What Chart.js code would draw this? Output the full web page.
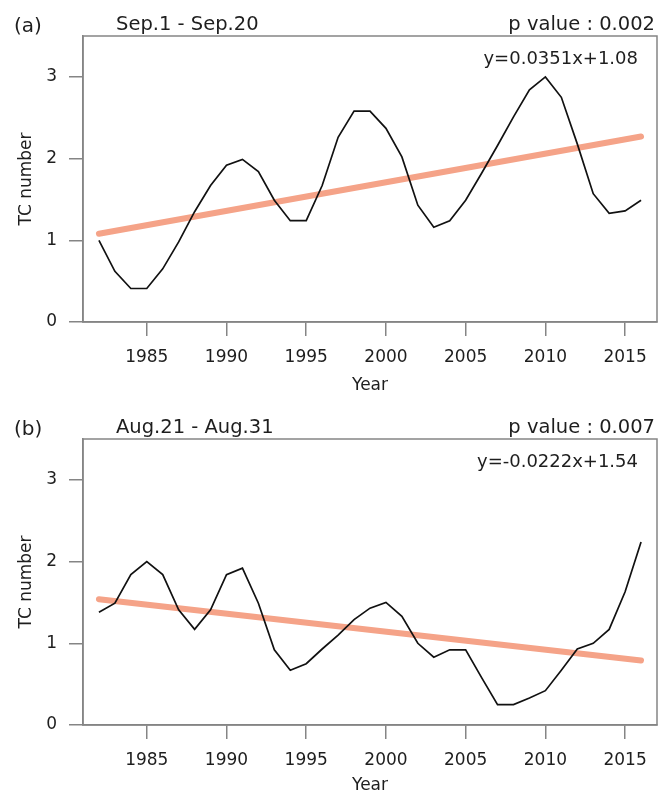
<!DOCTYPE html>
<html>
<head>
<meta charset="utf-8">
<script src="https://cdn.jsdelivr.net/npm/chart.js@4/dist/chart.umd.min.js"></script>
<style>
  html, body { margin: 0; padding: 0; background: #fff; }
  .panel { position: absolute; left: 0; width: 668px; height: 400px; }
</style>
</head>
<body>
<div class="panel" style="top:0"><canvas id="chartA" width="668" height="400"></canvas></div>
<div class="panel" style="top:400px"><canvas id="chartB" width="668" height="400"></canvas></div>
<script>
// data
const years = [1982,1983,1984,1985,1986,1987,1988,1989,1990,1991,1992,1993,1994,1995,1996,1997,1998,1999,
  2000,2001,2002,2003,2004,2005,2006,2007,2008,2009,2010,2011,2012,2013,2014,2015,2016];
const tcSep = [1.0,0.62,0.41,0.41,0.65,0.98,1.35,1.67,1.92,1.99,1.84,1.49,1.24,1.24,1.67,2.26,2.58,2.58,
  2.37,2.02,1.43,1.16,1.24,1.49,1.82,2.16,2.51,2.84,3.0,2.75,2.18,1.57,1.33,1.36,1.49];
const tcAug = [1.38,1.49,1.84,2.0,1.84,1.41,1.17,1.41,1.84,1.92,1.49,0.92,0.67,0.75,0.93,1.10,1.29,1.43,
  1.50,1.33,1.0,0.83,0.92,0.92,0.58,0.25,0.25,0.33,0.42,0.67,0.93,1.0,1.17,1.63,2.24];
const trendYears = [1982, 2016];
const trendSep = [1.08, 2.27];
const trendAug = [1.54, 0.79];
const xTicks = [1985,1990,1995,2000,2005,2010,2015];
const yTicks = [0,1,2,3];

const FONT = "'DejaVu Sans', sans-serif";
const AXIS = '#858585';
const TEXT = '#1e1e1e';

const panelText = {
  id: 'panelText',
  afterDraw(chart, args, o) {
    const {ctx, chartArea: a} = chart;
    ctx.save();
    ctx.strokeStyle = AXIS;
    ctx.lineWidth = 1.5;
    ctx.strokeRect(a.left, a.top, a.right - a.left, a.bottom - a.top);
    ctx.fillStyle = TEXT;
    ctx.textBaseline = 'alphabetic';
    ctx.font = '20px ' + FONT;
    ctx.textAlign = 'left';
    ctx.fillText(o.tag, 14, a.top - 4);
    ctx.font = '19.5px ' + FONT;
    ctx.fillText(o.title, 116, a.top - 6);
    ctx.textAlign = 'right';
    ctx.fillText(o.pval, 655, a.top - 6);
    ctx.font = '18px ' + FONT;
    ctx.fillText(o.eq, 638, a.top + 28);
    ctx.restore();
  }
};

function makePanel(id, values, trend, text, top, xHeight) {
  return new Chart(document.getElementById(id), {
    type: 'line',
    data: {
      datasets: [
        { data: years.map((y, i) => ({x: y, y: values[i]})), borderColor: '#111', borderWidth: 1.7,
          pointRadius: 0, tension: 0, order: 0 },
        { data: trendYears.map((y, i) => ({x: y, y: trend[i]})), borderColor: '#f5a388', borderWidth: 6,
          borderCapStyle: 'round', pointRadius: 0, order: 1 }
      ]
    },
    options: {
      responsive: false,
      animation: false,
      layout: { padding: { top: top, right: 11, left: 0, bottom: 0 } },
      plugins: { legend: { display: false }, tooltip: { enabled: false }, panelText: text },
      scales: {
        x: {
          type: 'linear', min: 1981, max: 2017,
          afterBuildTicks: s => { s.ticks = xTicks.map(v => ({value: v})); },
          afterFit: s => { s.height = xHeight; },
          grid: { drawOnChartArea: false, tickLength: 14, color: AXIS, lineWidth: 1.5 },
          border: { color: AXIS, width: 1.5 },
          ticks: { color: TEXT, font: { family: FONT, size: 17 }, padding: 11, maxRotation: 0,
                   callback: v => String(v) },
          title: { display: true, text: 'Year', color: TEXT, font: { family: FONT, size: 17 },
                   padding: { top: 0, bottom: 4 } }
        },
        y: {
          min: 0, max: 3.5,
          afterBuildTicks: s => { s.ticks = yTicks.map(v => ({value: v})); },
          afterFit: s => { s.width = 83; },
          grid: { drawOnChartArea: false, tickLength: 14, color: AXIS, lineWidth: 1.5 },
          border: { color: AXIS, width: 1.5 },
          ticks: { color: TEXT, font: { family: FONT, size: 17 }, padding: 12, callback: v => String(v) },
          title: { display: true, text: 'TC number', color: TEXT, font: { family: FONT, size: 17 },
                   padding: { top: 16, bottom: 0 } }
        }
      }
    },
    plugins: [panelText]
  });
}

makePanel('chartA', tcSep, trendSep,
  { tag: '(a)', title: 'Sep.1 - Sep.20', pval: 'p value : 0.002', eq: 'y=0.0351x+1.08' }, 36, 78);
makePanel('chartB', tcAug, trendAug,
  { tag: '(b)', title: 'Aug.21 - Aug.31', pval: 'p value : 0.007', eq: 'y=-0.0222x+1.54' }, 39, 75);
</script>
</body>
</html>
